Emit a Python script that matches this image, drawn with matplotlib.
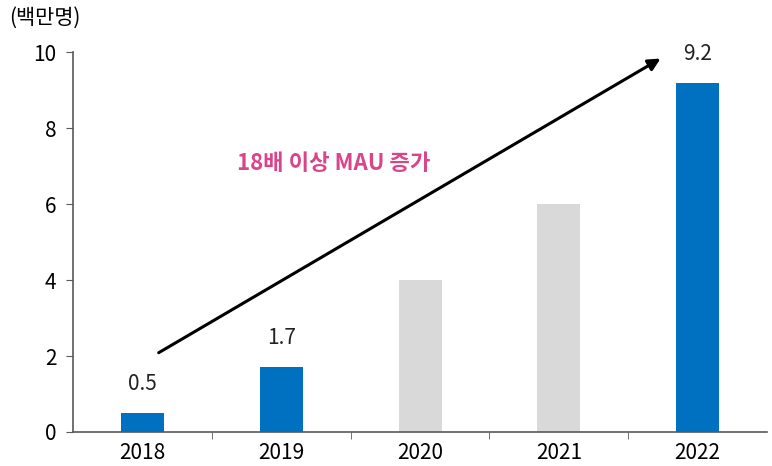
import matplotlib

matplotlib.use("Agg")

import matplotlib.pyplot as plt
from matplotlib.ticker import FixedLocator


plt.rcParams["font.family"] = ["Noto Sans CJK KR", "DejaVu Sans"]

years = ["2018", "2019", "2020", "2021", "2022"]
mau = [0.5, 1.7, 4.0, 6.0, 9.2]
labeled = [True, True, False, False, True]

blue = "#0070C0"
grey = "#D9D9D9"
axis_grey = "#595959"

fig = plt.figure(figsize=(7.72, 4.66), dpi=100)
ax = fig.add_axes([0.0946, 0.073, 0.899, 0.815])

x = list(range(len(years)))
colors = [blue if show else grey for show in labeled]
bars = ax.bar(x, mau, width=0.31, color=colors)

for bar, value, show in zip(bars, mau, labeled):
    if show:
        ax.annotate(
            f"{value:.1f}",
            (bar.get_x() + bar.get_width() / 2, value),
            xytext=(0, 13),
            textcoords="offset points",
            ha="center",
            va="bottom",
            fontsize=15,
            color="#222222",
        )

# growth arrow across the bars
ax.annotate(
    "",
    xy=(3.75, 9.87),
    xytext=(0.1, 2.05),
    arrowprops=dict(arrowstyle="-|>", color="black", lw=2.2, mutation_scale=18),
)
ax.text(
    1.38, 7.08, "18배 이상 MAU 증가",
    ha="center", va="center", fontsize=16, fontweight="bold", color="#D9448A",
)

ax.set_xlim(-0.5, 4.5)
ax.set_ylim(0, 10)
ax.set_yticks([0, 2, 4, 6, 8, 10])
ax.set_xticks(x)
ax.set_xticklabels(years)
ax.xaxis.set_minor_locator(FixedLocator([0.5, 1.5, 2.5, 3.5]))
ax.tick_params(axis="x", which="major", length=0, pad=7, labelsize=15)
ax.tick_params(axis="x", which="minor", length=5, color=axis_grey)
ax.tick_params(axis="y", length=5, color=axis_grey, pad=7, labelsize=15)

for side in ["top", "right"]:
    ax.spines[side].set_visible(False)
for side in ["left", "bottom"]:
    ax.spines[side].set_color(axis_grey)
    ax.spines[side].set_linewidth(1.2)

fig.text(0.012, 0.962, "(백만명)", fontsize=15, va="center", ha="left")

fig.savefig("out.png", dpi=100)
